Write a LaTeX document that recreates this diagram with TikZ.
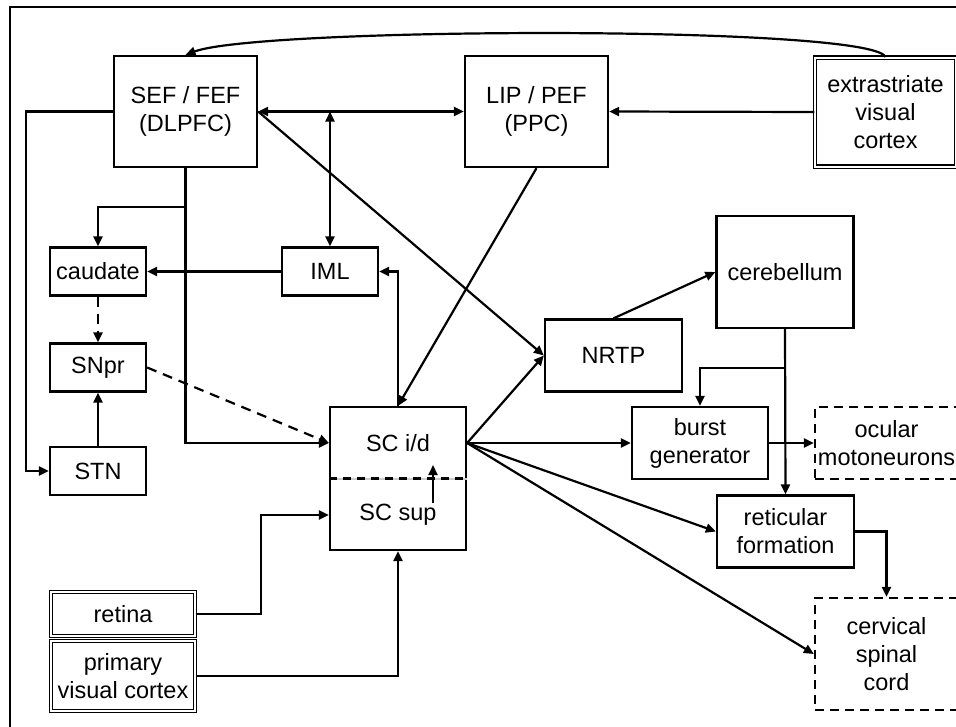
\documentclass[tikz,border=0pt]{standalone}
\usepackage{fontspec}
\setmainfont{Liberation Sans}
\usetikzlibrary{arrows.meta}

\begin{document}
\begin{tikzpicture}[x=1pt,y=-1pt,>={Triangle[length=10pt,width=9pt]},
  every node/.style={font=\fontsize{23.5}{28}\selectfont,align=center,inner sep=0pt},
  area/.style={draw,line width=2.3pt},
  input/.style={draw,line width=1.2pt,double,double distance=2pt},
  output/.style={draw,line width=2.3pt,dash pattern=on 9pt off 6pt},
  link/.style={line width=2.2pt},
  dlink/.style={line width=2.2pt,dash pattern=on 10pt off 7pt}]
\useasboundingbox (0,0) rectangle (956,726);
\clip (0,0) rectangle (956,726);
\draw[line width=2.3pt] (10,740) -- (10,7) -- (970,7);

\node [area, minimum width=143pt, minimum height=111pt] (sef) at (185.5,111.5) {SEF / FEF\\(DLPFC)};
\node [area, minimum width=143pt, minimum height=111pt] (lip) at (536.5,111.5) {LIP / PEF\\(PPC)};
\node [input, minimum width=141pt, minimum height=109pt] (extra) at (885.5,112) {extrastriate\\visual\\cortex};
\node [area, minimum width=96pt, minimum height=48pt] (caudate) at (98,271.5) {caudate};
\node [area, minimum width=96pt, minimum height=48pt] (iml) at (330,271.5) {IML};
\node [area, minimum width=96pt, minimum height=48pt] (snpr) at (98,367.5) {SNpr};
\node [area, minimum width=96pt, minimum height=48pt] (stn) at (98,471) {STN};
\node [area, minimum width=136pt, minimum height=143pt] (sc) at (398,478.5) {};
\node (scid) at (398,443) {SC i/d};
\node (scsup) at (398,515) {SC sup};
\node [area, minimum width=137pt, minimum height=72pt] (nrtp) at (613.5,355.5) {NRTP};
\node [area, minimum width=137pt, minimum height=112pt] (cereb) at (785,272) {cerebellum};
\node [area, minimum width=136pt, minimum height=72pt] (burst) at (700,443) {burst\\generator};
\node [output, minimum width=143pt, minimum height=72pt] (ocular) at (886.5,443) {ocular\\motoneurons};
\node [area, minimum width=137pt, minimum height=72pt] (retic) at (785.5,531.5) {reticular\\formation};
\node [output, minimum width=143pt, minimum height=112pt] (cerv) at (886.5,654) {cervical\\spinal\\cord};
\node [input, minimum width=144pt, minimum height=44pt] (retina) at (123,614) {retina};
\node [input, minimum width=144pt, minimum height=70pt] (v1) at (123,676) {primary\\visual cortex};

\draw[gray!40, line width=2pt] (sc.west) -- (sc.east);
\draw[line width=2.2pt, dash pattern=on 8pt off 6pt] (sc.west) -- (sc.east);

\coordinate (sefdown) at (185.5,207);
\coordinate (supup) at (433,503);
\coordinate (idlow) at (433,465);
\coordinate (scout) at (sc.east |- scid);

\draw[link,->] (extra.north) .. controls (870,25) and (260,27) .. (sef.north);
\draw[link,<->] (sef.east) -- (lip.west);
\draw[link,<->] (iml.north |- sef.east) -- (iml.north);
\draw[link,->] (extra.west) -- (lip.east);
\draw[link,->] (sef.east) -- (nrtp.west);
\draw[link,->] (sef.south) -- (sefdown) -| (caudate.north);
\draw[link,->] (sefdown) |- (sc.west |- scid);
\draw[link,->] (sef.west) -| ([xshift=-23pt]stn.west) -- (stn.west);
\draw[dlink,->] (caudate.south) -- (snpr.north);
\draw[link,->] (stn.north) -- (snpr.south);
\draw[dlink,->] (snpr.east) -- (sc.west |- scid);
\draw[link,->] (iml.west) -- (caudate.east);
\draw[link,->] (sc.north) |- (iml.east);
\draw[link,->] (lip.south) -- (sc.north);
\draw[link,->] (supup) -- (idlow);
\draw[link,->] (retina.east) -| ([xshift=-68pt]sc.west |- scsup) -- (sc.west |- scsup);
\draw[link,->] (v1.east) -| (sc.south);
\draw[link,->] (scout) -- (nrtp.west);
\draw[link,->] (scout) -- (burst.west);
\draw[link,->] (scout) -- (retic.west);
\draw[link,->] (scout) -- (cerv.west);
\draw[link,->] (nrtp.north) -- (cereb.west);
\draw[link,->] (cereb.south) -- ++(0,39) -| (burst.north);
\draw[link,->] (cereb.south) -- (retic.north);
\draw[link,->] (burst.east) -- (ocular.west);
\draw[link,->] (retic.east) -| (cerv.north);
\end{tikzpicture}
\end{document}
